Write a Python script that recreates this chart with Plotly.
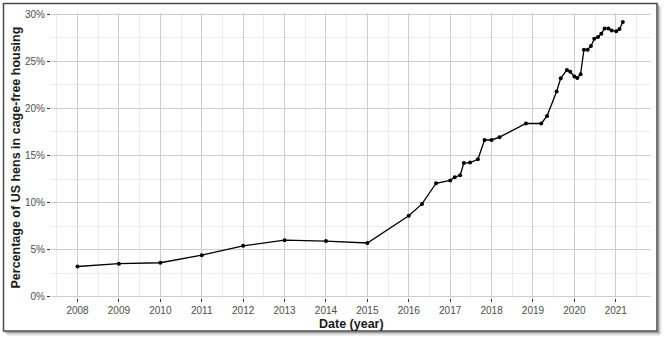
import plotly.graph_objects as go

# ---- data ----
years = [2008, 2009, 2010, 2011, 2012, 2013, 2014, 2015,
         2016.0, 2016.32, 2016.66, 2017.0, 2017.11, 2017.24, 2017.33, 2017.48,
         2017.67, 2017.83, 2018.0, 2018.19, 2018.83, 2019.2, 2019.34, 2019.57,
         2019.67, 2019.82, 2019.9, 2020.0, 2020.07, 2020.15, 2020.23, 2020.32,
         2020.4, 2020.48, 2020.57, 2020.65, 2020.73, 2020.82, 2020.9, 2021.01,
         2021.09, 2021.17]
pct_cage_free = [3.2, 3.5, 3.6, 4.4, 5.4, 6.0, 5.9, 5.7,
                 8.6, 9.85, 12.05, 12.35, 12.7, 12.9, 14.2, 14.25,
                 14.6, 16.65, 16.65, 16.95, 18.4, 18.4, 19.2, 21.8,
                 23.2, 24.1, 23.9, 23.4, 23.25, 23.65, 26.25, 26.25,
                 26.65, 27.4, 27.6, 27.95, 28.5, 28.5, 28.3, 28.2,
                 28.45, 29.2]
x_tick_years = list(range(2008, 2022))
x_tick_labels = [str(y) for y in x_tick_years]
y_tick_vals = [0, 5, 10, 15, 20, 25, 30]
y_tick_labels = ["0%", "5%", "10%", "15%", "20%", "25%", "30%"]

W, H = 666, 340
L, R, T, B = 51, 15, 13, 42
PW, PH = W - L - R, H - T - B

def px(x):
    return (x - L) / PW

def py(y):
    return (H - B - y) / PH

FONT = "Liberation Sans, Arial, sans-serif"

fig = go.Figure()
fig.add_trace(go.Scatter(
    x=years, y=pct_cage_free, mode="lines+markers",
    line=dict(color="black", width=1.3),
    marker=dict(color="black", size=4),
    hoverinfo="x+y", showlegend=False,
))

grid_major = "#cdcdcd"
grid_minor = "#ebebeb"

fig.update_xaxes(
    range=[2007.36, 2021.85], tickvals=x_tick_years, ticktext=x_tick_labels,
    showgrid=True, gridcolor=grid_major, gridwidth=1.2,
    minor=dict(dtick=0.5, tick0=2007.5, showgrid=True, gridcolor=grid_minor, gridwidth=0.6, ticks=""),
    ticks="outside", ticklen=3, tickcolor="#333333", tickwidth=1,
    tickfont=dict(family=FONT, size=10, color="#4d4d4d"),
    zeroline=False, showline=False, fixedrange=True,
)
fig.update_yaxes(
    range=[-0.15, 30.15], tickvals=y_tick_vals, ticktext=y_tick_labels,
    showgrid=True, gridcolor=grid_major, gridwidth=1.2,
    minor=dict(dtick=2.5, tick0=0, showgrid=True, gridcolor=grid_minor, gridwidth=0.6, ticks=""),
    ticks="outside", ticklen=3, tickcolor="#333333", tickwidth=1,
    tickfont=dict(family=FONT, size=10, color="#4d4d4d"),
    zeroline=False, showline=False, fixedrange=True,
)

shapes = [
    # soft shadow on right and bottom
    dict(type="line", xref="paper", yref="paper", x0=px(660), x1=px(660), y0=py(7), y1=py(334),
         line=dict(color="rgba(0,0,0,0.12)", width=3), layer="above"),
    dict(type="line", xref="paper", yref="paper", x0=px(7), x1=px(660), y0=py(334), y1=py(334),
         line=dict(color="rgba(0,0,0,0.12)", width=3), layer="above"),
    dict(type="line", xref="paper", yref="paper", x0=px(658.5), x1=px(658.5), y0=py(5), y1=py(332.5),
         line=dict(color="rgba(0,0,0,0.35)", width=1.5), layer="above"),
    dict(type="line", xref="paper", yref="paper", x0=px(5), x1=px(658.5), y0=py(332.5), y1=py(332.5),
         line=dict(color="rgba(0,0,0,0.35)", width=1.5), layer="above"),
    # frame
    dict(type="rect", xref="paper", yref="paper", x0=px(3.5), x1=px(657), y0=py(331), y1=py(3.5),
         line=dict(color="#4a4a4a", width=1.5), fillcolor="rgba(0,0,0,0)", layer="above"),
]

annotations = [
    dict(text="<b>Percentage of US hens in cage-free housing</b>", xref="paper", yref="paper",
         x=px(15.5), y=py(158), textangle=-90, showarrow=False,
         font=dict(family=FONT, size=12.5, color="#1a1a1a"), xanchor="center", yanchor="middle"),
    dict(text="<b>Date (year)</b>", xref="paper", yref="paper",
         x=px(351), y=py(323.5), showarrow=False,
         font=dict(family=FONT, size=12.5, color="#1a1a1a"), xanchor="center", yanchor="middle"),
]

fig.update_layout(
    width=W, height=H, margin=dict(l=L, r=R, t=T, b=B, autoexpand=False),
    paper_bgcolor="white", plot_bgcolor="white",
    shapes=shapes, annotations=annotations,
    font=dict(family=FONT),
)

fig.write_html("out.html", config={"displayModeBar": False})
